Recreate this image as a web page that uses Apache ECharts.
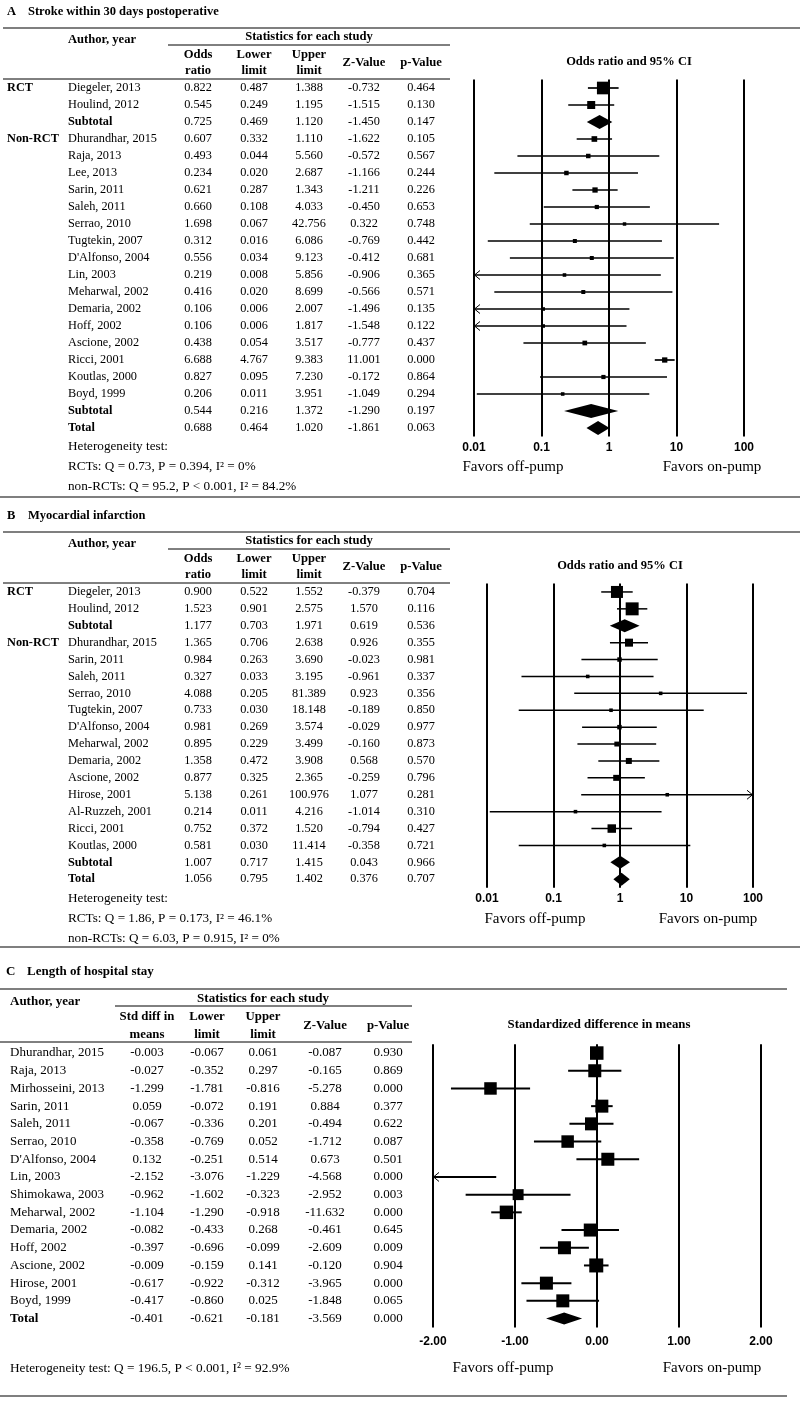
<!DOCTYPE html>
<html><head><meta charset="utf-8">
<script src="https://cdn.jsdelivr.net/npm/echarts@6.0.0/dist/echarts.min.js"></script>
<style>html,body{margin:0;padding:0;background:#fff}#c{width:800px;height:1402px}</style>
</head><body><div id="c"></div>
<script>
// ================= DATA =================
// Panel A: Stroke within 30 days postoperative
const namesA = ['Diegeler, 2013','Houlind, 2012','Subtotal','Dhurandhar, 2015','Raja, 2013','Lee, 2013','Sarin, 2011','Saleh, 2011','Serrao, 2010','Tugtekin, 2007',"D'Alfonso, 2004",'Lin, 2003','Meharwal, 2002','Demaria, 2002','Hoff, 2002','Ascione, 2002','Ricci, 2001','Koutlas, 2000','Boyd, 1999','Subtotal','Total'];
const kindA = ['s','s','sub','s','s','s','s','s','s','s','s','s','s','s','s','s','s','s','s','sub','tot'];
const groupA = ['RCT','','','Non-RCT','','','','','','','','','','','','','','','','',''];
const orA  = [0.822,0.545,0.725,0.607,0.493,0.234,0.621,0.660,1.698,0.312,0.556,0.219,0.416,0.106,0.106,0.438,6.688,0.827,0.206,0.544,0.688];
const lowA = [0.487,0.249,0.469,0.332,0.044,0.020,0.287,0.108,0.067,0.016,0.034,0.008,0.020,0.006,0.006,0.054,4.767,0.095,0.011,0.216,0.464];
const upA  = [1.388,1.195,1.120,1.110,5.560,2.687,1.343,4.033,42.756,6.086,9.123,5.856,8.699,2.007,1.817,3.517,9.383,7.230,3.951,1.372,1.020];
const zA   = [-0.732,-1.515,-1.450,-1.622,-0.572,-1.166,-1.211,-0.450,0.322,-0.769,-0.412,-0.906,-0.566,-1.496,-1.548,-0.777,11.001,-0.172,-1.049,-1.290,-1.861];
const pA   = [0.464,0.130,0.147,0.105,0.567,0.244,0.226,0.653,0.748,0.442,0.681,0.365,0.571,0.135,0.122,0.437,0.000,0.864,0.294,0.197,0.063];
const wA   = [40,16,0,8,5,5,7,4.4,3,4,4,3.2,4,3.2,3.2,5.5,7,4.4,3.2,0,0];
const ticksA = [0.01,0.1,1,10,100];
const tickLabelsA = ['0.01','0.1','1','10','100'];

// Panel B: Myocardial infarction
const namesB = ['Diegeler, 2013','Houlind, 2012','Subtotal','Dhurandhar, 2015','Sarin, 2011','Saleh, 2011','Serrao, 2010','Tugtekin, 2007',"D'Alfonso, 2004",'Meharwal, 2002','Demaria, 2002','Ascione, 2002','Hirose, 2001','Al-Ruzzeh, 2001','Ricci, 2001','Koutlas, 2000','Subtotal','Total'];
const kindB = ['s','s','sub','s','s','s','s','s','s','s','s','s','s','s','s','s','sub','tot'];
const groupB = ['RCT','','','Non-RCT','','','','','','','','','','','','','',''];
const orB  = [0.900,1.523,1.177,1.365,0.984,0.327,4.088,0.733,0.981,0.895,1.358,0.877,5.138,0.214,0.752,0.581,1.007,1.056];
const lowB = [0.522,0.901,0.703,0.706,0.263,0.033,0.205,0.030,0.269,0.229,0.472,0.325,0.261,0.011,0.372,0.030,0.717,0.795];
const upB  = [1.552,2.575,1.971,2.638,3.690,3.195,81.389,18.148,3.574,3.499,3.908,2.365,100.976,4.216,1.520,11.414,1.415,1.402];
const zB   = [-0.379,1.570,0.619,0.926,-0.023,-0.961,0.923,-0.189,-0.029,-0.160,0.568,-0.259,1.077,-1.014,-0.794,-0.358,0.043,0.376];
const pB   = [0.704,0.116,0.536,0.355,0.981,0.337,0.356,0.850,0.977,0.873,0.570,0.796,0.281,0.310,0.427,0.721,0.966,0.707];
const wB   = [36,42,0,16,5,3.2,3.2,3.2,5,6,9,9,3.2,3.2,18,3.2,0,0];
const ticksB = [0.01,0.1,1,10,100];
const tickLabelsB = ['0.01','0.1','1','10','100'];

// Panel C: Length of hospital stay
const namesC = ['Dhurandhar, 2015','Raja, 2013','Mirhosseini, 2013','Sarin, 2011','Saleh, 2011','Serrao, 2010',"D'Alfonso, 2004",'Lin, 2003','Shimokawa, 2003','Meharwal, 2002','Demaria, 2002','Hoff, 2002','Ascione, 2002','Hirose, 2001','Boyd, 1999','Total'];
const kindC = ['s','s','s','s','s','s','s','s','s','s','s','s','s','s','s','tot'];
const smdC = [-0.003,-0.027,-1.299,0.059,-0.067,-0.358,0.132,-2.152,-0.962,-1.104,-0.082,-0.397,-0.009,-0.617,-0.417,-0.401];
const lowC = [-0.067,-0.352,-1.781,-0.072,-0.336,-0.769,-0.251,-3.076,-1.602,-1.290,-0.433,-0.696,-0.159,-0.922,-0.860,-0.621];
const upC  = [0.061,0.297,-0.816,0.191,0.201,0.052,0.514,-1.229,-0.323,-0.918,0.268,-0.099,0.141,-0.312,0.025,-0.181];
const zC   = [-0.087,-0.165,-5.278,0.884,-0.494,-1.712,0.673,-4.568,-2.952,-11.632,-0.461,-2.609,-0.120,-3.965,-1.848,-3.569];
const pC   = [0.930,0.869,0.000,0.377,0.622,0.087,0.501,0.000,0.003,0.000,0.645,0.009,0.904,0.000,0.065,0.000];
const wC   = [45.6,42.3,39,42.3,42.3,39,42.3,30,30,45.6,42.3,42.3,49,42.3,42.3,0];
const ticksC = [-2,-1,0,1,2];
const tickLabelsC = ['-2.00','-1.00','0.00','1.00','2.00'];

// ================= LAYOUT / STYLE =================
const SERIF = '"Liberation Serif","Times New Roman",serif';
const SANS = '"Liberation Sans",Arial,sans-serif';

const PA = {names:namesA,kind:kindA,group:groupA,est:orA,low:lowA,up:upA,z:zA,p:pA,w:wA,
  xmin:ticksA[0],xmax:ticksA[ticksA.length-1],cols:[198,254,309,364,421],nameX:68,groupX:7,lw:1.7,sizeK:2,dh:7,fs:12.3};
const PB = {names:namesB,kind:kindB,group:groupB,est:orB,low:lowB,up:upB,z:zB,p:pB,w:wB,
  xmin:ticksB[0],xmax:ticksB[ticksB.length-1],cols:[198,254,309,364,421],nameX:68,groupX:7,lw:1.5,sizeK:2,dh:6.5,fs:12.3};
const PC = {names:namesC,kind:kindC,group:null,est:smdC,low:lowC,up:upC,z:zC,p:pC,w:wC,
  xmin:ticksC[0],xmax:ticksC[ticksC.length-1],cols:[147,207,263,325,388],nameX:10,groupX:0,lw:2,sizeK:2,dh:6,fs:13};

function forestSeries(gi, P) {
  return {
    type:'custom', xAxisIndex:gi, yAxisIndex:gi, clip:false, silent:true, z:10,
    data: P.est.map((v,i)=>[v, i, P.low[i], P.up[i]]),
    renderItem(params, api) {
      const est = api.value(0), i = api.value(1), lo = api.value(2), hi = api.value(3);
      const clampX = v => api.coord([Math.min(Math.max(v,P.xmin),P.xmax), i])[0];
      const y = api.coord([P.xmin, i])[1];
      const ch = [];
      if (P.kind[i] === 's') {
        const x1 = clampX(lo), x2 = clampX(hi);
        ch.push({type:'line', shape:{x1, y1:y, x2, y2:y}, style:{stroke:'#000', lineWidth:P.lw}});
        if (lo < P.xmin) ch.push({type:'polyline', shape:{points:[[x1+6,y-4.5],[x1+0.5,y],[x1+6,y+4.5]]}, style:{stroke:'#000', fill:null, lineWidth:1}});
        if (hi > P.xmax) ch.push({type:'polyline', shape:{points:[[x2-6,y-4.5],[x2-0.5,y],[x2-6,y+4.5]]}, style:{stroke:'#000', fill:null, lineWidth:1}});
        if (est >= P.xmin && est <= P.xmax) {
          const s = P.sizeK*Math.sqrt(P.w[i]);
          const x = clampX(est);
          ch.push({type:'rect', shape:{x:x-s/2, y:y-s/2, width:s, height:s}, style:{fill:'#000'}});
        }
      } else {
        const xl = clampX(lo), xr = clampX(hi), xm = clampX(est);
        ch.push({type:'polygon', shape:{points:[[xl,y],[xm,y-P.dh],[xr,y],[xm,y+P.dh]]}, style:{fill:'#000'}});
      }
      return {type:'group', children:ch};
    }
  };
}

function T(text, x, y, opt) {
  opt = opt || {};
  const align = opt.align || 'left';
  return {type:'text', x, y, silent:true, style:{text,
    font:(opt.bold?'bold ':'')+(opt.size||12)+'px '+(opt.sans?SANS:SERIF),
    fill:'#000', align, verticalAlign:'middle', textAlign:align, textVerticalAlign:'middle'}};
}

function tableSeries(gi, P) {
  return {
    type:'custom', xAxisIndex:gi, yAxisIndex:gi, clip:false, silent:true, z:5,
    data: P.est.map((v,i)=>[v, i]),
    renderItem(params, api) {
      const i = api.value(1);
      const y = api.coord([P.xmin, i])[1];
      const bold = P.kind[i] !== 's';
      const ch = [];
      if (P.group && P.group[i]) ch.push(T(P.group[i], P.groupX, y, {bold:true, size:P.fs}));
      ch.push(T(P.names[i], P.nameX, y, {bold, size:P.fs}));
      [P.est[i],P.low[i],P.up[i],P.z[i],P.p[i]].forEach((v,k)=>ch.push(T(v.toFixed(3), P.cols[k], y, {align:'center', size:P.fs})));
      return {type:'group', children:ch};
    }
  };
}

// static texts & rules
const G = [];
const txt = (s,x,y,o) => G.push(T(s,x,y,o));
const rule = (x1,x2,y,w,c) => G.push({type:'line', silent:true, shape:{x1,y1:y,x2,y2:y}, style:{stroke:c||'#000', lineWidth:w||1}});
const HB = 12.6; // header bold size A/B
const HS = 13.2; // heterogeneity text size
const FS = 15;   // favors text size

// Panel A headers
txt('A', 7, 12, {bold:true, size:12.5});
txt('Stroke within 30 days postoperative', 28, 12, {bold:true, size:12.5});
rule(3, 800, 28, 1.7, '#555');
txt('Author, year', 68, 40, {bold:true, size:HB});
txt('Statistics for each study', 309, 37, {bold:true, align:'center', size:HB});
rule(168, 450, 45, 1);
[['Odds','ratio',198],['Lower','limit',254],['Upper','limit',309]].forEach(h=>{txt(h[0],h[2],55,{bold:true,align:'center',size:HB});txt(h[1],h[2],71,{bold:true,align:'center',size:HB});});
txt('Z-Value', 364, 63, {bold:true, align:'center', size:HB});
txt('p-Value', 421, 63, {bold:true, align:'center', size:HB});
rule(3, 450, 79, 1);
txt('Odds ratio and 95% CI', 629, 62, {bold:true, align:'center', size:12.5});
txt('Heterogeneity test:', 68, 447, {size:HS});
txt('RCTs: Q = 0.73, P = 0.394, I² = 0%', 68, 467, {size:HS});
txt('non-RCTs: Q = 95.2, P < 0.001, I² = 84.2%', 68, 487, {size:HS});
txt('Favors off-pump', 513, 467, {align:'center', size:FS});
txt('Favors on-pump', 712, 467, {align:'center', size:FS});
rule(0, 800, 497, 1.7, '#555');

// Panel B headers
txt('B', 7, 516, {bold:true, size:12.5});
txt('Myocardial infarction', 28, 516, {bold:true, size:12.5});
rule(3, 800, 532, 1.7, '#555');
txt('Author, year', 68, 544, {bold:true, size:HB});
txt('Statistics for each study', 309, 541, {bold:true, align:'center', size:HB});
rule(168, 450, 549, 1);
[['Odds','ratio',198],['Lower','limit',254],['Upper','limit',309]].forEach(h=>{txt(h[0],h[2],559,{bold:true,align:'center',size:HB});txt(h[1],h[2],575,{bold:true,align:'center',size:HB});});
txt('Z-Value', 364, 567, {bold:true, align:'center', size:HB});
txt('p-Value', 421, 567, {bold:true, align:'center', size:HB});
rule(3, 450, 583, 1);
txt('Odds ratio and 95% CI', 620, 566, {bold:true, align:'center', size:12.5});
txt('Heterogeneity test:', 68, 899, {size:HS});
txt('RCTs: Q = 1.86, P = 0.173, I² = 46.1%', 68, 919, {size:HS});
txt('non-RCTs: Q = 6.03, P = 0.915, I² = 0%', 68, 939, {size:HS});
txt('Favors off-pump', 535, 919, {align:'center', size:FS});
txt('Favors on-pump', 708, 919, {align:'center', size:FS});
rule(0, 800, 947, 1.7, '#555');

// Panel C headers
txt('C', 6, 972, {bold:true, size:13});
txt('Length of hospital stay', 27, 972, {bold:true, size:13});
rule(0, 787, 989, 1.7, '#555');
txt('Author, year', 10, 1002, {bold:true, size:13});
txt('Statistics for each study', 263, 999, {bold:true, align:'center', size:13});
rule(115, 412, 1006, 1);
[['Std diff in','means',147],['Lower','limit',207],['Upper','limit',263]].forEach(h=>{txt(h[0],h[2],1017,{bold:true,align:'center',size:12.8});txt(h[1],h[2],1035,{bold:true,align:'center',size:12.8});});
txt('Z-Value', 325, 1026, {bold:true, align:'center', size:12.8});
txt('p-Value', 388, 1026, {bold:true, align:'center', size:12.8});
rule(0, 412, 1042, 1);
txt('Standardized difference in means', 599, 1025, {bold:true, align:'center', size:12.8});
txt('Heterogeneity test: Q = 196.5, P < 0.001, I² = 92.9%', 10, 1369, {size:13.3});
txt('Favors off-pump', 503, 1368, {align:'center', size:FS});
txt('Favors on-pump', 712, 1368, {align:'center', size:FS});
rule(0, 787, 1396, 1.7, '#555');

function labelFrom(ticks, labels) {
  return v => { let k = 0, d = Infinity; ticks.forEach((t,j)=>{const e=Math.abs(t-v)/Math.max(Math.abs(t),1e-9); if(e<d){d=e;k=j;}}); return labels[k]; };
}
function xAxisCfg(gi, type, ticks, labels, margin) {
  const c = {
    gridIndex:gi, type, min:ticks[0], max:ticks[ticks.length-1], position:'bottom',
    axisLine:{show:false}, axisTick:{show:false},
    splitLine:{show:true, showMinLine:true, showMaxLine:true, lineStyle:{color:'#000', width:2}},
    axisLabel:{show:true, margin, color:'#000', fontFamily:SANS, fontWeight:'bold', fontSize:12,
      showMinLabel:true, showMaxLabel:true, formatter:labelFrom(ticks, labels)}
  };
  if (type === 'log') { c.logBase = 10; } else { c.interval = 1; }
  return c;
}
function yAxisCfg(gi, n) {
  return {gridIndex:gi, type:'value', min:-0.5, max:n-0.5, inverse:true, show:false};
}

const option = {
  animation:false,
  backgroundColor:'#fff',
  grid:[
    {left:474, top:79.5, width:270, height:namesA.length*17, containLabel:false, outerBoundsMode:'none'},
    {left:487, top:583.5, width:266, height:namesB.length*16.9, containLabel:false, outerBoundsMode:'none'},
    {left:433, top:1044.2, width:328, height:namesC.length*17.7, containLabel:false, outerBoundsMode:'none'}
  ],
  xAxis:[
    xAxisCfg(0,'log',ticksA,tickLabelsA,5),
    xAxisCfg(1,'log',ticksB,tickLabelsB,5),
    xAxisCfg(2,'value',ticksC,tickLabelsC,8)
  ],
  yAxis:[yAxisCfg(0,namesA.length), yAxisCfg(1,namesB.length), yAxisCfg(2,namesC.length)],
  series:[
    forestSeries(0,PA), tableSeries(0,PA),
    forestSeries(1,PB), tableSeries(1,PB),
    forestSeries(2,PC), tableSeries(2,PC)
  ],
  graphic:{elements:G}
};
const chart = echarts.init(document.getElementById('c'), null, {renderer:'canvas'});
chart.setOption(option);
</script></body></html>
